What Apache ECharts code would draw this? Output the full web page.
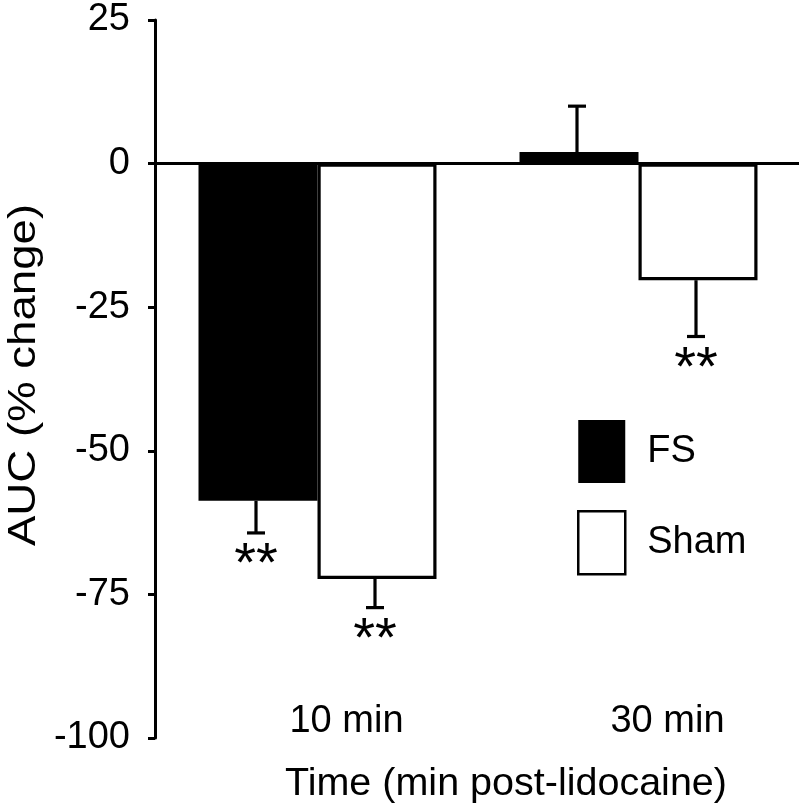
<!DOCTYPE html>
<html>
<head>
<meta charset="utf-8">
<script src="https://cdn.jsdelivr.net/npm/echarts@6/dist/echarts.min.js"></script>
<style>
html,body{margin:0;padding:0;background:#fff;}
#chart{width:800px;height:810px;}
</style>
</head>
<body>
<div id="chart"></div>
<script>
// ---- data ----
var categories = ['10 min', '30 min'];
var seriesNames = ['FS', 'Sham'];
var fsValues = [-58.7, 2.0];
var shamValues = [-72.3, -20.3];
var fsErr = [5.6, 8.0];
var shamErr = [5.0, 9.8];
var fsSig = ['**', ''];
var shamSig = ['**', '**'];
var yTicks = [-100, -75, -50, -25, 0, 25];

var FONT = "'Liberation Sans', Arial, Helvetica, sans-serif";
var BAR_W = 119;

function errData(vals, errs) {
  return vals.map(function (v, i) {
    var dir = v < 0 ? -1 : 1;
    return [i, v, v + dir * errs[i]];
  });
}

function makeErrRender(side, sigs) {
  return function (params, api) {
    var i = params.dataIndex;
    var c = api.value(0);
    var start = api.coord([c, api.value(1)]);
    var end = api.coord([c, api.value(2)]);
    var x = start[0] + side * BAR_W / 2 - 2;
    var capHalf = 9;
    var children = [
      { type: 'line', shape: { x1: x, y1: start[1], x2: x, y2: end[1] },
        style: { stroke: '#000', lineWidth: 3.2 } },
      { type: 'line', shape: { x1: x - capHalf, y1: end[1], x2: x + capHalf, y2: end[1] },
        style: { stroke: '#000', lineWidth: 3.2 } }
    ];
    if (sigs[i]) {
      children.push({ type: 'text', x: x, y: end[1] + 33,
        style: { text: sigs[i], fill: '#000', font: '56px ' + FONT,
                 align: 'center', verticalAlign: 'middle' } });
    }
    return { type: 'group', children: children };
  };
}

var chart = echarts.init(document.getElementById('chart'), null, { renderer: 'canvas' });
chart.setOption({
  animation: false,
  backgroundColor: '#fff',
  textStyle: { fontFamily: FONT },
  grid: { left: 157, right: 1, top: 20, bottom: 72, containLabel: false },
  legend: {
    orient: 'vertical', left: 577, top: 420, padding: 0,
    itemWidth: 47, itemHeight: 63, itemGap: 27,
    textStyle: { fontSize: 38, color: '#000', fontFamily: FONT, padding: [0, 0, 0, 17] },
    data: [
      { name: seriesNames[0], icon: 'rect', itemStyle: { color: '#000', borderColor: '#000', borderWidth: 0 } },
      { name: seriesNames[1], icon: 'rect', itemStyle: { color: '#fff', borderColor: '#000', borderWidth: 2.5 } }
    ]
  },
  xAxis: {
    type: 'category', data: categories,
    axisLine: { show: false }, axisTick: { show: false },
    axisLabel: { margin: -35, fontSize: 38, color: '#000', fontFamily: FONT, padding: [0, 0, 0, 58] },
    name: 'Time (min post-lidocaine)', nameLocation: 'middle', nameGap: 26,
    nameTextStyle: { fontSize: 39.5, color: '#000', fontFamily: FONT, padding: [0, 0, 0, 56] }
  },
  yAxis: {
    type: 'value', min: yTicks[0], max: yTicks[yTicks.length - 1], interval: 25, offset: 2,
    splitLine: { show: false },
    axisLine: { show: true, lineStyle: { color: '#000', width: 3 } },
    axisTick: { show: true, length: 7, lineStyle: { color: '#000', width: 3 } },
    axisLabel: { margin: 25, fontSize: 38, color: '#000', fontFamily: FONT }
  },
  graphic: [{
    type: 'text', x: 25, y: 375, rotation: Math.PI / 2, scaleX: 1.2,
    style: { text: 'AUC (% change)', font: '38px ' + FONT, fill: '#000',
             align: 'center', verticalAlign: 'middle' }
  }],
  series: [
    { name: seriesNames[0], type: 'bar', data: fsValues, barWidth: BAR_W, barGap: '0%',
      itemStyle: { color: '#000', borderColor: '#000', borderWidth: 0 },
      markLine: { silent: true, symbol: ['none', 'none'], label: { show: false },
        lineStyle: { color: '#000', width: 3.2, type: 'solid' },
        data: [{ yAxis: 0 }] } },
    { name: seriesNames[1], type: 'bar', data: shamValues, barWidth: BAR_W, barGap: '0%',
      itemStyle: { color: '#fff', borderColor: '#000', borderWidth: 3.2 } },
    { name: 'fsErr', type: 'custom', data: errData(fsValues, fsErr),
      encode: { x: 0, y: [1, 2] }, renderItem: makeErrRender(-1, fsSig), z: 3 },
    { name: 'shamErr', type: 'custom', data: errData(shamValues, shamErr),
      encode: { x: 0, y: [1, 2] }, renderItem: makeErrRender(1, shamSig), z: 3 }
  ]
});
</script>
</body>
</html>
